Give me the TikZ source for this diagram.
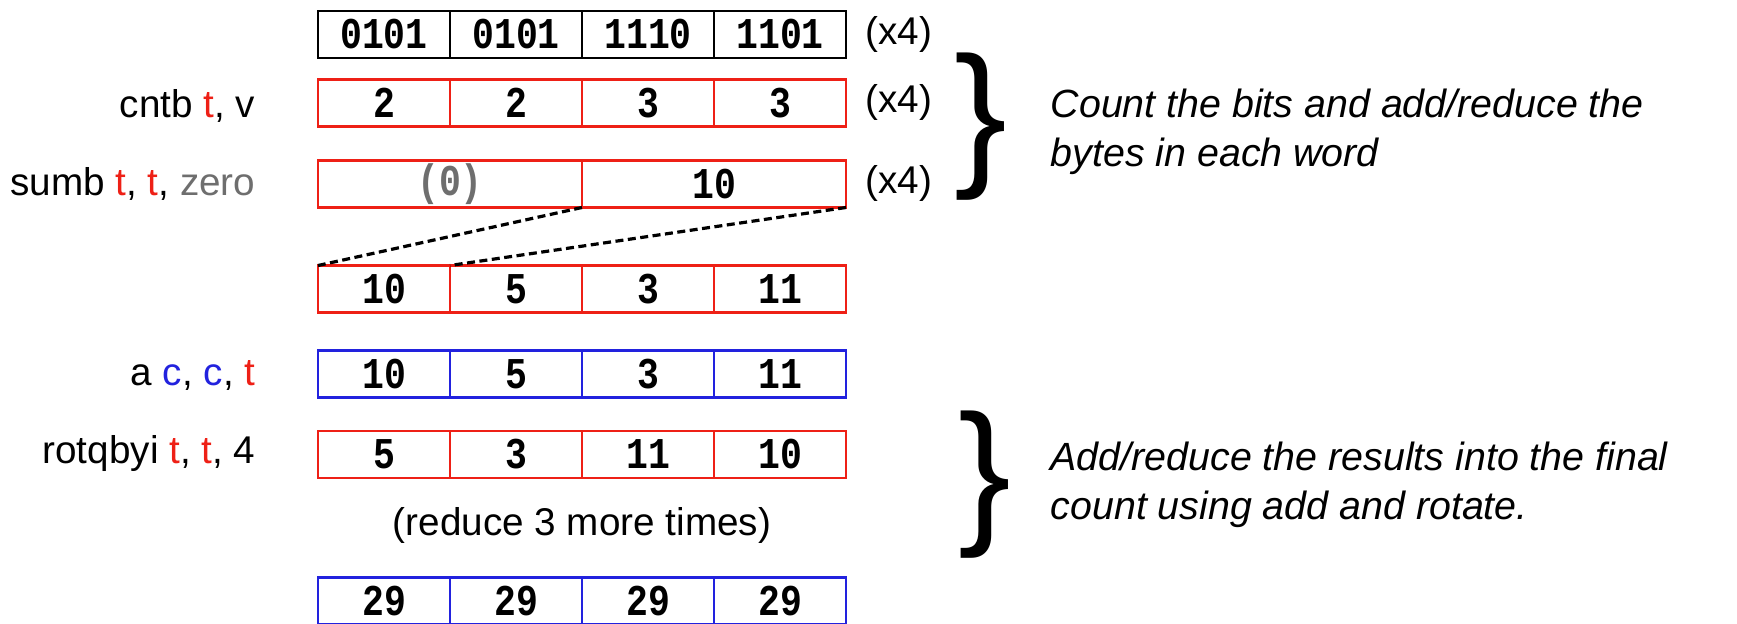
\documentclass[tikz,border=0pt]{standalone}
\usepackage{fontspec}
\setmainfont{Liberation Sans}
\newfontfamily\cellfont{Liberation Mono}[FakeStretch=0.83]
\usetikzlibrary{positioning}

\definecolor{regred}{RGB}{238,32,22}
\definecolor{regblue}{RGB}{34,34,222}
\definecolor{zerogray}{RGB}{110,110,110}

\tikzset{
  cell/.style={draw,minimum width=13.2mm,minimum height=4.7mm,inner sep=0pt,outer sep=0pt,
    line width=0.28mm,font=\cellfont\bfseries\fontsize{12.5}{14}\selectfont},
  halfcell/.style={cell,minimum width=26.4mm},
  op/.style={anchor=base east,inner sep=0pt,font=\fontsize{11}{13}\selectfont},
  rep/.style={anchor=west,inner sep=0pt,font=\fontsize{11}{13}\selectfont},
  bigbrace/.style={inner sep=0pt,font=\fontsize{45}{45}\selectfont},
  note/.style={anchor=west,align=left,inner sep=0pt,font=\itshape\fontsize{11.2}{13.9}\selectfont},
  gather/.style={line width=0.32mm,dash pattern=on 0.8mm off 0.45mm}
}

\begin{document}
\begin{tikzpicture}[x=0.1mm,y=-0.1mm]
  \useasboundingbox (0,0) rectangle (1737,623);

  % Row 1 (input word)
  \node[cell] (in1) at (384,34.5) {0101};
  \node[cell,right=0pt of in1] (in2) {0101};
  \node[cell,right=0pt of in2] (in3) {1110};
  \node[cell,right=0pt of in3] (in4) {1101};
  \node[rep] (rep1) at (865,34.5) {(x4)};

  % Row 2 (cntb)
  \node[op] (cntb) at (256,117) {cntb \textcolor{regred}{t}, v};
  \node[cell,draw=regred] (cnt1) at (384,103) {2};
  \node[cell,draw=regred,right=0pt of cnt1] (cnt2) {2};
  \node[cell,draw=regred,right=0pt of cnt2] (cnt3) {3};
  \node[cell,draw=regred,right=0pt of cnt3] (cnt4) {3};
  \node[rep] (rep2) at (865,102) {(x4)};

  % Row 3 (sumb)
  \node[op] (sumb) at (256,195) {sumb \textcolor{regred}{t}, \textcolor{regred}{t}, \textcolor{zerogray}{zero}};
  \node[halfcell,draw=regred,text=zerogray] (sum1) at (450,184) {(0)};
  \node[halfcell,draw=regred,right=0pt of sum1] (sum2) {10};
  \node[rep] (rep3) at (865,183) {(x4)};

  % Row 4 (gathered words)
  \node[cell,draw=regred] (w1) at (384,289) {10};
  \node[cell,draw=regred,right=0pt of w1] (w2) {5};
  \node[cell,draw=regred,right=0pt of w2] (w3) {3};
  \node[cell,draw=regred,right=0pt of w3] (w4) {11};
  \draw[gather] (sum1.south east) -- (w1.north west);
  \draw[gather] (sum2.south east) -- (w1.north east);

  % Row 5 (a)
  \node[op] (acc) at (256,385) {a \textcolor{regblue}{c}, \textcolor{regblue}{c}, \textcolor{regred}{t}};
  \node[cell,draw=regblue] (a1) at (384,374) {10};
  \node[cell,draw=regblue,right=0pt of a1] (a2) {5};
  \node[cell,draw=regblue,right=0pt of a2] (a3) {3};
  \node[cell,draw=regblue,right=0pt of a3] (a4) {11};

  % Row 6 (rotqbyi)
  \node[op] (rot) at (256,463) {rotqbyi \textcolor{regred}{t}, \textcolor{regred}{t}, 4};
  \node[cell,draw=regred] (r1) at (384,454.5) {5};
  \node[cell,draw=regred,right=0pt of r1] (r2) {3};
  \node[cell,draw=regred,right=0pt of r2] (r3) {11};
  \node[cell,draw=regred,right=0pt of r3] (r4) {10};
  \node[font=\fontsize{11}{13}\selectfont,inner sep=0pt] (more) at (582,525) {(reduce 3 more times)};

  % Row 7 (final count)
  \node[cell,draw=regblue] (f1) at (384,601) {29};
  \node[cell,draw=regblue,right=0pt of f1] (f2) {29};
  \node[cell,draw=regblue,right=0pt of f2] (f3) {29};
  \node[cell,draw=regblue,right=0pt of f3] (f4) {29};

  % Braces and notes
  \node[bigbrace] (brace1) at (981,127) {\}};
  \node[note] (note1) at (1050,132) {Count the bits and add/reduce the\\bytes in each word};
  \node[bigbrace] (brace2) at (985,485) {\}};
  \node[note] (note2) at (1050,485) {Add/reduce the results into the final\\count using add and rotate.};
\end{tikzpicture}
\end{document}
